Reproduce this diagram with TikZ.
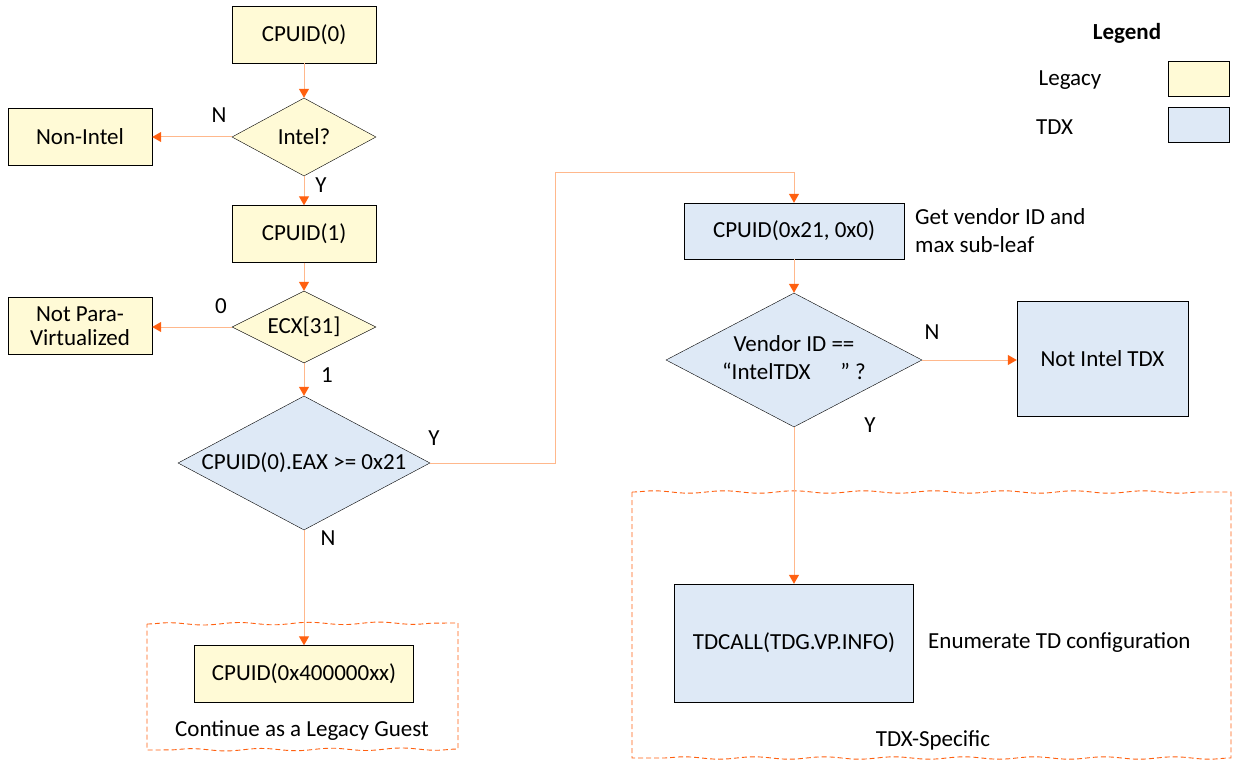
\documentclass[tikz,border=0pt]{standalone}
\usepackage{fontspec}
\setmainfont{Carlito}
\usetikzlibrary{arrows.meta,shapes.geometric,decorations.pathmorphing}

\definecolor{legacyfill}{RGB}{255,250,214}
\definecolor{tdxfill}{RGB}{222,233,246}
\definecolor{flowline}{RGB}{255,184,140}
\definecolor{flowtip}{RGB}{255,96,16}
\newcommand{\ztext}[1]{\makebox[0pt]{#1}}

\tikzset{
    legacy/.style={draw, fill=legacyfill, inner sep=0pt, align=center},
    tdx/.style={draw, fill=tdxfill, inner sep=0pt, align=center},
    decision/.style={diamond, draw, inner sep=0pt, aspect=2},
    flow/.style={draw=flowline, line width=1pt, -{Triangle[color=flowtip, width=10pt, length=9pt]}},
    region/.style={draw=flowtip, dash pattern=on 5pt off 3pt, line width=0.9pt},
    wavy/.style={decoration={snake, amplitude=1.2pt, segment length=70pt}},
    lbl/.style={inner sep=0pt}
}

\begin{document}
\begin{tikzpicture}[x=1pt, y=-1pt, font=\fontsize{23}{28}\selectfont]
    \useasboundingbox (0,0) rectangle (1235,762);
    % dashed groups
    \draw[region] (147,624) decorate[wavy]{-- (458,623)} -- (458,749) decorate[wavy]{-- (147,750)} -- cycle;
    \draw[region] (632,492) decorate[wavy]{-- (1231,492)} -- (1231,758) decorate[wavy]{-- (632,758)} -- cycle;
    \node[lbl] (legacytxt) at (302,731) {Continue as a Legacy Guest};
    \node[lbl] (tdxtxt) at (933,740) {TDX-Specific};
    % legacy flow
    \node[legacy, minimum width=144, minimum height=57] (cpuid0) at (304,34.5) {CPUID(0)};
    \node[decision, fill=legacyfill, minimum width=144, minimum height=78] (intel) at (304,137) {\ztext{Intel?}};
    \node[legacy, minimum width=144, minimum height=57] (nonintel) at (80,137) {Non-Intel};
    \node[legacy, minimum width=144, minimum height=57] (cpuid1) at (304,234) {CPUID(1)};
    \node[decision, fill=legacyfill, minimum width=144, minimum height=72] (ecx) at (304,327) {\ztext{ECX[31]}};
    \node[legacy, minimum width=144, minimum height=57, font=\fontsize{23}{24}\selectfont] (notpv) at (80,326) {Not Para-\\Virtualized};
    \node[decision, fill=tdxfill, minimum width=252, minimum height=134] (eax) at (304,463) {\ztext{CPUID(0).EAX >= 0x21}};
    \node[legacy, minimum width=219, minimum height=57] (cpuidhv) at (304,674) {CPUID(0x400000xx)};
    % tdx flow
    \node[tdx, minimum width=220, minimum height=56] (cpuid21) at (794,231) {CPUID(0x21, 0x0)};
    \node[lbl, anchor=west, align=left, font=\fontsize{23}{28}\selectfont] (vendortxt) at (915,231) {Get vendor ID and\\max sub-leaf};
    \node[decision, fill=tdxfill, minimum width=256, minimum height=134] (vendor) at (794,360)
        {\ztext{\begin{tabular}{@{}c@{}}Vendor ID ==\\``IntelTDX\hspace{1.3em}'' ?\end{tabular}}};
    \node[tdx, minimum width=171, minimum height=115] (notdx) at (1102.5,358.5) {Not Intel TDX};
    \node[tdx, minimum width=239, minimum height=118] (tdcall) at (794,643) {TDCALL(TDG.VP.INFO)};
    \node[lbl, anchor=west] (enumtxt) at (928,643) {Enumerate TD configuration};
    % legend
    \node[lbl, font=\fontsize{23}{28}\selectfont\bfseries] (legend) at (1127,33) {Legend};
    \node[lbl] (legacykey) at (1070,80) {Legacy};
    \node[lbl, anchor=west] (tdxkey) at (1036,127) {TDX};
    \node[legacy, minimum width=61, minimum height=35] (legacybox) at (1198.5,78.5) {};
    \node[tdx, minimum width=61, minimum height=35] (tdxbox) at (1198.5,124.5) {};
    % connectors
    \draw[flow] (cpuid0) -- (intel);
    \draw[flow] (intel) -- (nonintel);
    \draw[flow] (intel) -- (cpuid1);
    \draw[flow] (cpuid1) -- (ecx);
    \draw[flow] (ecx.west) -- (notpv.east |- ecx.west);
    \draw[flow] (ecx) -- (eax);
    \draw[flow] (eax) -- (cpuidhv);
    \draw[flow] (eax.east) -- (555,463) -- (555,173) -- (cpuid21.north |- 0,173) -- (cpuid21);
    \draw[flow] (cpuid21) -- (vendor);
    \draw[flow] (vendor.east) -- (notdx.west |- vendor.east);
    \draw[flow] (vendor) -- (tdcall);
    % branch labels
    \node[lbl] (intelno) at (219,115) {N};
    \node[lbl] (intelyes) at (321,185) {Y};
    \node[lbl] (ecxzero) at (221,306) {0};
    \node[lbl] (ecxone) at (327,375) {1};
    \node[lbl] (eaxyes) at (434,438) {Y};
    \node[lbl] (eaxno) at (328,538) {N};
    \node[lbl] (vendorno) at (932,332) {N};
    \node[lbl] (vendoryes) at (870,425) {Y};
\end{tikzpicture}
\end{document}
